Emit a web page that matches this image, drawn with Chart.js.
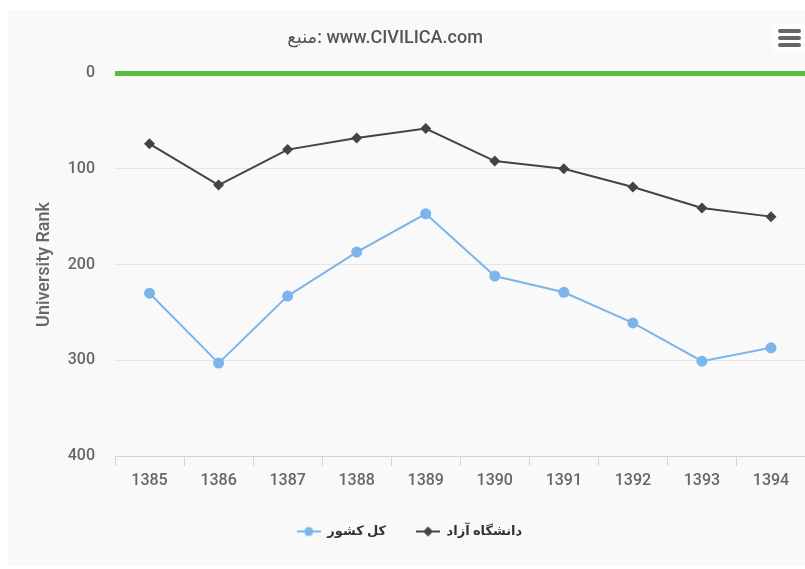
<!DOCTYPE html>
<html>
<head>
<meta charset="utf-8">
<script src="https://cdn.jsdelivr.net/npm/chart.js@4/dist/chart.umd.min.js"></script>
<style>
  body { margin: 0; background: #ffffff; overflow: hidden; }
  #panel { position: absolute; left: 8px; top: 10px; width: 797px; height: 556px; background: #f9f9f9; overflow: hidden; }
  #title { position: absolute; left: 8px; top: 26px; width: 754px; text-align: center;
           font: 500 18px Roboto, "DejaVu Sans", sans-serif; color: #555; direction: ltr; }
  #menu { position: absolute; left: 773px; top: 24px; width: 32px; height: 28px; background: #fdfdfd; }
  #menu span { position: absolute; left: 5px; width: 23px; height: 4px; border-radius: 2px; background: #666; }
</style>
</head>
<body>
<div id="panel"><canvas id="rankChart" width="803" height="556"></canvas></div>
<div id="title">منبع: www.CIVILICA.com</div>
<div id="menu"><span style="top:5px"></span><span style="top:12px"></span><span style="top:19px"></span></div>
<script>
// داده‌ها
const years = ['1385', '1386', '1387', '1388', '1389', '1390', '1391', '1392', '1393', '1394'];
const countryRank = [230, 303, 233, 187, 147, 212, 229, 261, 301, 287];
const azadRank = [74, 117, 80, 68, 58, 92, 100, 119, 141, 150];
const rankTicks = [0, 100, 200, 300, 400];

const FONT = 'Roboto, "DejaVu Sans", sans-serif';

// نماد راهنما: خط با نشانگر
function legendSymbol(color, style) {
    const c = document.createElement('canvas');
    c.width = 24; c.height = 12;
    const g = c.getContext('2d');
    g.strokeStyle = color; g.fillStyle = color; g.lineWidth = 2;
    g.beginPath(); g.moveTo(0, 6); g.lineTo(24, 6); g.stroke();
    g.beginPath();
    if (style === 'circle') {
        g.arc(12, 6, 4.5, 0, Math.PI * 2);
    } else {
        g.moveTo(12, 1); g.lineTo(17, 6); g.lineTo(12, 11); g.lineTo(7, 6); g.closePath();
    }
    g.fill();
    return c;
}

new Chart(document.getElementById('rankChart'), {
    type: 'line',
    data: {
        labels: years,
        datasets: [
            {
                label: 'کل کشور',
                data: countryRank,
                borderColor: '#7cb5ec',
                backgroundColor: '#7cb5ec',
                borderWidth: 2,
                pointStyle: 'circle',
                pointRadius: 5.5,
                pointBorderWidth: 0,
                symbol: legendSymbol('#7cb5ec', 'circle')
            },
            {
                label: 'دانشگاه آزاد',
                data: azadRank,
                borderColor: '#434348',
                backgroundColor: '#434348',
                borderWidth: 2,
                pointStyle: 'rectRot',
                pointRadius: 5.5,
                pointBorderWidth: 0,
                symbol: legendSymbol('#434348', 'diamond')
            }
        ]
    },
    options: {
        responsive: false,
        animation: false,
        layout: { padding: { top: 63, bottom: 18, left: 0, right: 0 } },
        plugins: {
            tooltip: { enabled: false },
            legend: {
                position: 'bottom',
                labels: {
                    usePointStyle: true,
                    pointStyleWidth: 24,
                    padding: 30,
                    color: '#333',
                    font: { family: FONT, size: 13, weight: 'bold' },
                    generateLabels: chart => chart.data.datasets.map((ds, i) => ({
                        text: ds.label,
                        fillStyle: ds.borderColor,
                        strokeStyle: ds.borderColor,
                        fontColor: '#333',
                        pointStyle: ds.symbol,
                        hidden: false,
                        lineWidth: 0,
                        datasetIndex: i
                    }))
                }
            }
        },
        scales: {
            x: {
                offset: true,
                afterFit: s => { s.height = 39; },
                grid: { offset: true, drawOnChartArea: false, color: '#ccd6eb', tickLength: 10 },
                border: { color: '#ccd6eb' },
                ticks: { color: '#666', padding: 5, font: { family: FONT, size: 16, weight: '500' } }
            },
            y: {
                reverse: true,
                min: 0,
                max: 400,
                afterFit: s => { s.width = 107; },
                afterBuildTicks: s => { s.ticks = rankTicks.map(v => ({ value: v })); },
                grid: {
                    drawTicks: false,
                    color: c => c.tick && c.tick.value === 0 ? '#58bd3c' : '#e6e6e6',
                    lineWidth: c => c.tick && c.tick.value === 0 ? 5 : 1
                },
                border: { display: false },
                ticks: { color: '#666', padding: 20, font: { family: FONT, size: 16, weight: '500' } },
                title: {
                    display: true,
                    text: 'University Rank',
                    color: '#666',
                    padding: { top: 26, bottom: 0 },
                    font: { family: FONT, size: 18, weight: '500' }
                }
            }
        }
    }
});
</script>
</body>
</html>
